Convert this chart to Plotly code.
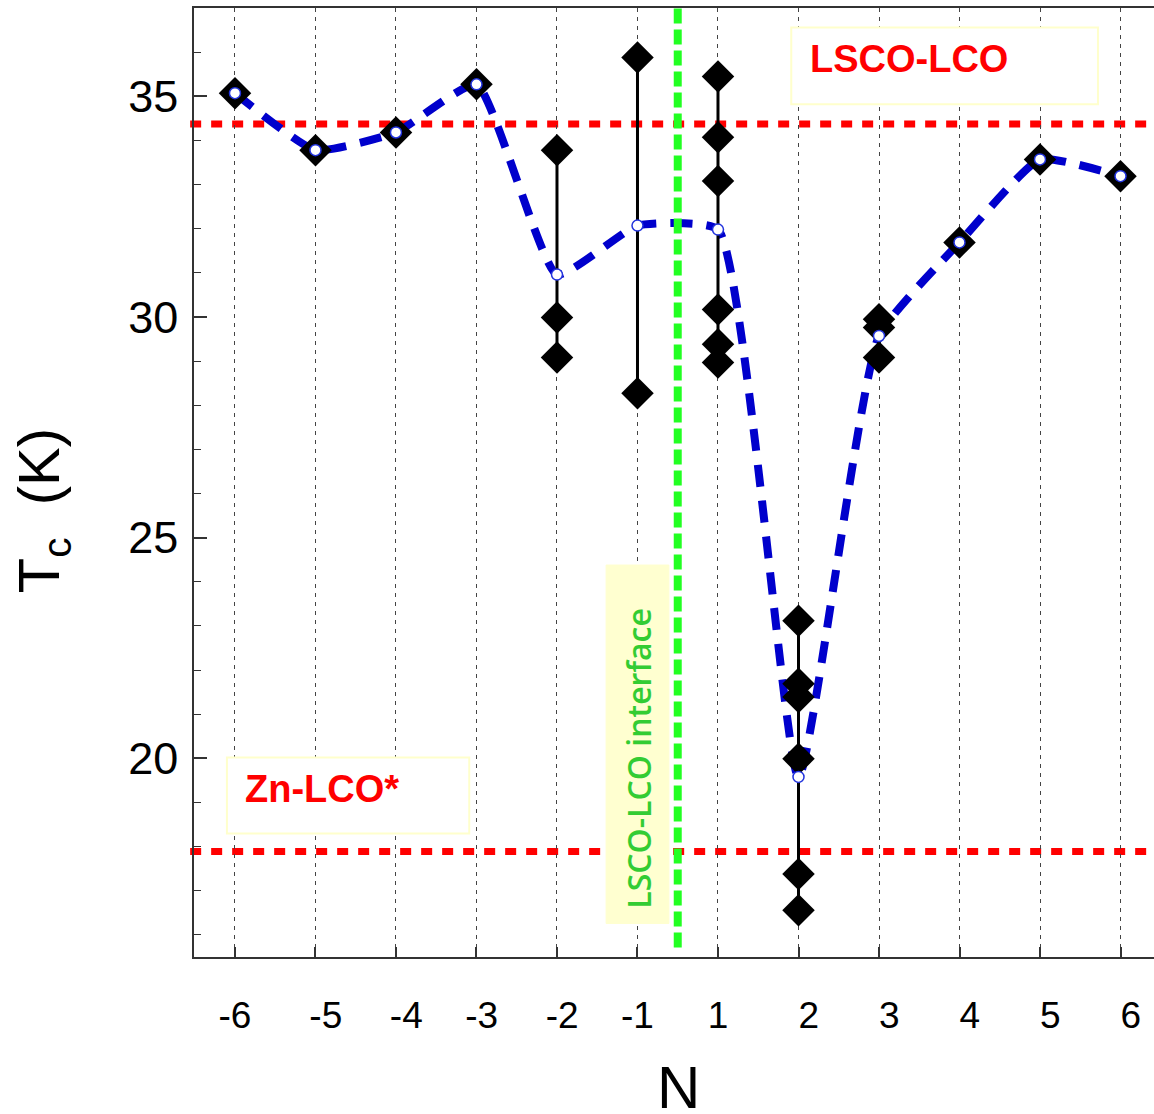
import plotly.graph_objects as go

# ---------------- data ----------------
N_labels = ["-6", "-5", "-4", "-3", "-2", "-1", "1", "2", "3", "4", "5", "6"]
mean_tc = [35.07, 33.78, 34.18, 35.27, 30.96, 32.07, 31.98, 19.58, 29.57, 31.69, 33.57, 33.19]
samples_tc = [
    [35.07],
    [33.78],
    [34.18],
    [35.27],
    [33.78, 29.99, 29.08],
    [35.88, 28.27],
    [35.45, 34.07, 33.08, 30.17, 29.38, 28.97],
    [23.12, 21.69, 21.39, 19.99, 17.38, 16.56],
    [29.95, 29.76, 29.08],
    [31.69],
    [33.57],
    [33.19],
]
lsco_lco_tc = 34.37
zn_lco_tc = 17.89
# label offsets (non-breaking spaces) to mimic the original tick label placement
tick_pad = [0, 2, 2, 1, 1, 0, 0, 2, 2, 2, 2, 2]

pos = list(range(len(N_labels)))
interface_pos = 5.5

# ---------------- figure ----------------
fig = go.Figure()

# blue dashed smoothed line through the means
fig.add_trace(go.Scatter(
    x=pos, y=mean_tc, mode="lines",
    line=dict(color="#0000cc", width=8, dash="22px,14px", shape="spline", smoothing=0.45),
    hoverinfo="skip", showlegend=False))

# vertical spread lines
vx, vy = [], []
for p, s in zip(pos, samples_tc):
    if len(s) > 1:
        vx += [p, p, None]
        vy += [min(s), max(s), None]
fig.add_trace(go.Scatter(x=vx, y=vy, mode="lines",
                         line=dict(color="black", width=3),
                         hoverinfo="skip", showlegend=False))

# diamonds
dx, dy = [], []
for p, s in zip(pos, samples_tc):
    for v in s:
        dx.append(p)
        dy.append(v)
fig.add_trace(go.Scatter(x=dx, y=dy, mode="markers",
                         marker=dict(symbol="diamond", size=25, color="black",
                                     line=dict(width=0)),
                         showlegend=False))

# mean markers
fig.add_trace(go.Scatter(x=pos, y=mean_tc, mode="markers",
                         marker=dict(symbol="circle", size=11, color="white",
                                     line=dict(color="#2233dd", width=1.5)),
                         showlegend=False))

# reference lines
for yv in (lsco_lco_tc, zn_lco_tc):
    fig.add_shape(type="line", xref="paper", x0=-0.004, x1=1, yref="y", y0=yv, y1=yv,
                  line=dict(color="#ff0000", width=7, dash="11px,10px"), layer="between")

# interface line
fig.add_shape(type="line", xref="x", x0=interface_pos, x1=interface_pos,
              yref="paper", y0=0.01, y1=1,
              line=dict(color="#22ff22", width=8, dash="15px,6px"), layer="above")

# boxes
fig.add_shape(type="rect", x0=6.91, x1=10.72, y0=34.82, y1=36.56,
              line=dict(color="#ffffcc", width=2), fillcolor="white", layer="above")
fig.add_shape(type="rect", x0=-0.10, x1=2.91, y0=18.30, y1=20.02,
              line=dict(color="#ffffcc", width=2), fillcolor="white", layer="above")
fig.add_shape(type="rect", x0=4.61, x1=5.39, y0=16.26, y1=24.38,
              line=dict(color="#ffffd0", width=1), fillcolor="#ffffd0", layer="above")

fig.add_annotation(x=7.12, y=35.84, text="<b>LSCO-LCO</b>", showarrow=False,
                   xanchor="left", yanchor="middle",
                   font=dict(family="Arial, Liberation Sans", size=38, color="#ff0000"))
fig.add_annotation(x=0.10, y=19.30, text="<b>Zn-LCO*</b>", showarrow=False,
                   xanchor="left", yanchor="middle",
                   font=dict(family="Arial, Liberation Sans", size=38, color="#ff0000"))
fig.add_annotation(x=5.01, y=20.0, text="LSCO-LCO interface", showarrow=False,
                   textangle=-90, xanchor="center", yanchor="middle",
                   font=dict(family="Open Sans", size=32, weight=600, color="#33cc33"))

# axis titles (placed as annotations to match the original positions)
fig.add_annotation(xref="paper", yref="paper", x=-0.157, y=0.47,
                   text="T<sub>c</sub>\u00a0\u00a0(K)", showarrow=False,
                   textangle=-90, xanchor="center", yanchor="middle",
                   font=dict(family="Arial, Liberation Sans", size=58, color="black"))
fig.add_annotation(xref="paper", yref="paper", x=0.505, y=-0.137,
                   text="N", showarrow=False,
                   xanchor="center", yanchor="middle",
                   font=dict(family="Arial, Liberation Sans", size=60, color="black"))

ticktext = ["\u00a0" * n + t for n, t in zip(tick_pad, N_labels)]

fig.update_layout(
    width=1154, height=1114,
    margin=dict(l=194, r=0, t=8, b=157),
    paper_bgcolor="white", plot_bgcolor="white",
    font=dict(family="Arial, Liberation Sans", color="black"),
    showlegend=False,
)
fig.update_xaxes(
    range=[-0.509, 11.416], automargin=False,
    tickmode="array", tickvals=pos, ticktext=ticktext,
    tickfont=dict(size=37),
    ticks="inside", ticklen=10, tickwidth=1.5, tickcolor="#333",
    ticklabelstandoff=25,
    showline=True, linecolor="#333", linewidth=1.5, mirror=True,
    showgrid=True, gridcolor="#444", gridwidth=1.2, griddash="4px,5px",
    zeroline=False,
)
fig.update_yaxes(
    range=[15.5, 37], automargin=False,
    tickmode="array", tickvals=[20, 25, 30, 35],
    tickfont=dict(size=45),
    ticks="inside", ticklen=13, tickwidth=1.5, tickcolor="#333",
    ticklabelstandoff=5,
    minor=dict(dtick=1, ticks="inside", ticklen=7, tickwidth=1.2, tickcolor="#333", showgrid=False),
    showline=True, linecolor="#333", linewidth=1.5,
    showgrid=False, zeroline=False,
)

fig.write_html("out.html", config={"displayModeBar": False},
               post_script="document.body.style.margin='0px';")
